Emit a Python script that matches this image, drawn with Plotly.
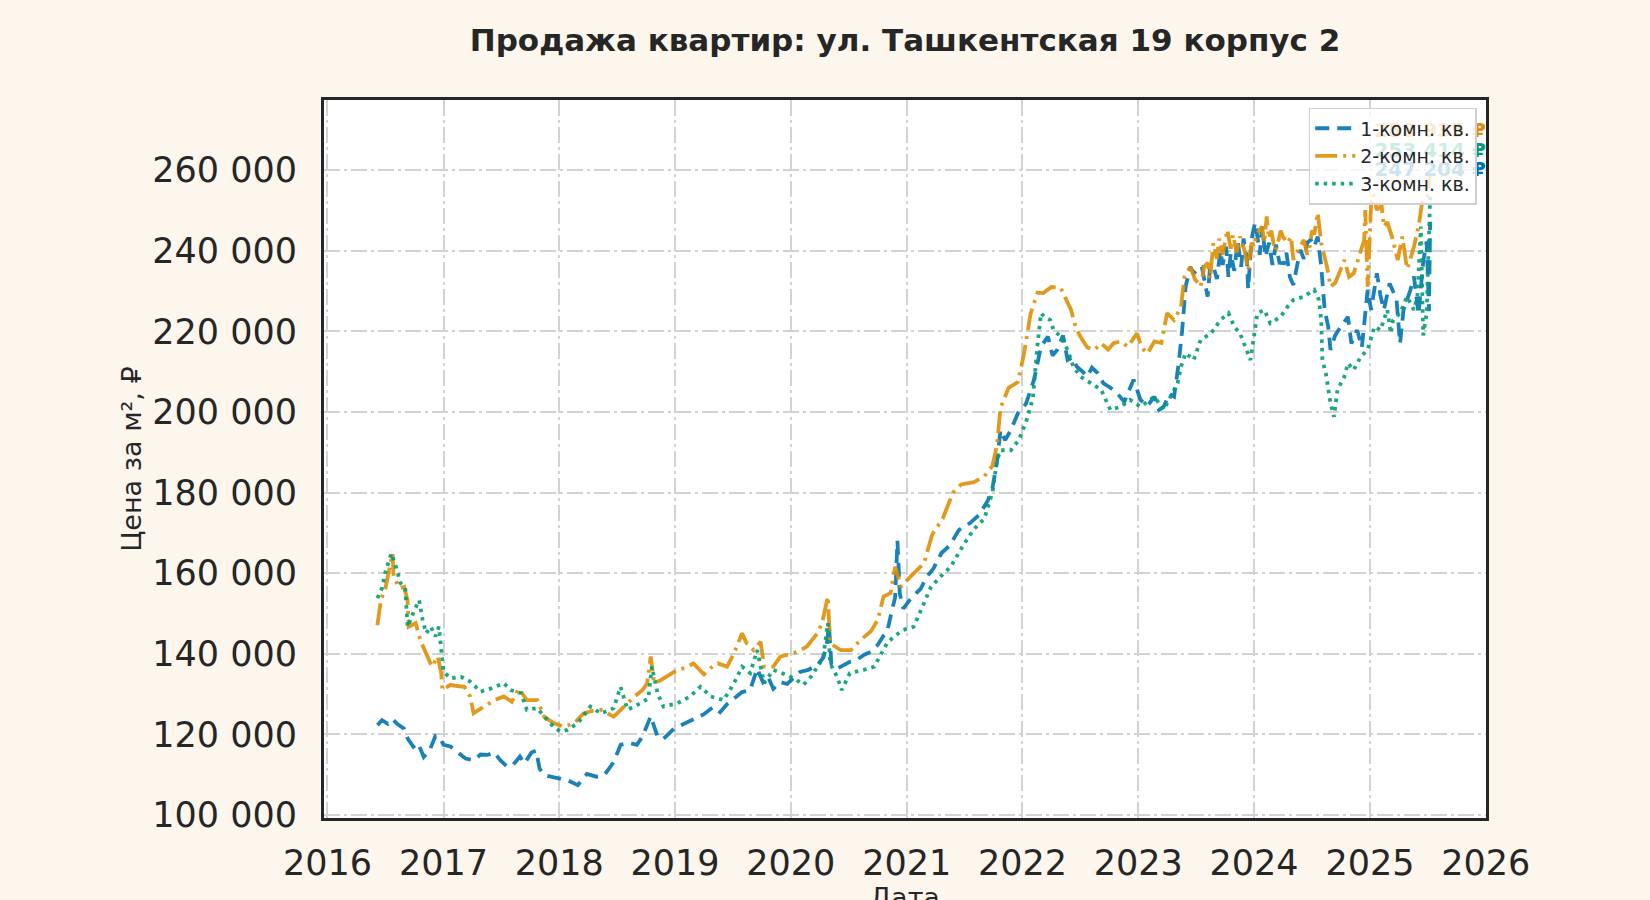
import pandas as pd
import plotly.graph_objects as go

TITLE = "Продажа квартир: ул. Ташкентская 19 корпус 2"
X_TITLE = "Дата"
Y_TITLE = "Цена за м², ₽"
SERIES_NAMES = ["1-комн. кв.", "2-комн. кв.", "3-комн. кв."]
END_LABELS = ["247 204 ₽", "258 935 ₽", "253 414 ₽"]
Y_TICKS = [100000, 120000, 140000, 160000, 180000, 200000, 220000, 240000, 260000]
X_TICK_YEARS = list(range(2016, 2027))

# 1-комн. кв. : decimal year / price per m2, thousand rubles
ONE_T = [2016.43, 2016.47, 2016.52, 2016.56, 2016.60, 2016.66, 2016.69, 2016.74, 2016.78, 2016.83,
         2016.88, 2016.93, 2016.96, 2017.00, 2017.06, 2017.12, 2017.19, 2017.26, 2017.32, 2017.38,
         2017.44, 2017.49, 2017.55, 2017.60, 2017.66, 2017.70, 2017.76, 2017.80, 2017.83, 2017.87,
         2017.93, 2018.01, 2018.08, 2018.16, 2018.24, 2018.32, 2018.39, 2018.47, 2018.53, 2018.60,
         2018.67, 2018.72, 2018.79, 2018.85, 2018.90, 2018.99, 2019.07, 2019.16, 2019.25, 2019.33,
         2019.39, 2019.45, 2019.51, 2019.58, 2019.65, 2019.71, 2019.76, 2019.80, 2019.85, 2019.91,
         2019.97, 2020.03, 2020.08, 2020.15, 2020.23, 2020.28, 2020.31, 2020.33, 2020.35, 2020.40,
         2020.45, 2020.51, 2020.57, 2020.63, 2020.69, 2020.75, 2020.80, 2020.83, 2020.87, 2020.90,
         2020.92, 2020.94, 2020.97, 2021.03, 2021.08, 2021.12, 2021.17, 2021.23, 2021.30, 2021.37,
         2021.45, 2021.55, 2021.63, 2021.70, 2021.74, 2021.78, 2021.81, 2021.85, 2021.90, 2021.96,
         2022.03, 2022.10, 2022.16, 2022.22, 2022.26, 2022.30, 2022.35, 2022.39, 2022.43, 2022.47,
         2022.52, 2022.56, 2022.60, 2022.65, 2022.70, 2022.76, 2022.82, 2022.88, 2022.96, 2023.02,
         2023.08, 2023.14, 2023.18, 2023.22, 2023.27, 2023.31, 2023.35, 2023.38, 2023.41, 2023.45,
         2023.48, 2023.53, 2023.55, 2023.57, 2023.60, 2023.62, 2023.65, 2023.68, 2023.71, 2023.73,
         2023.76, 2023.78, 2023.80, 2023.83, 2023.86, 2023.89, 2023.91, 2023.94, 2023.95, 2023.98,
         2024.01, 2024.03, 2024.05, 2024.07, 2024.10, 2024.13, 2024.16, 2024.19, 2024.22, 2024.26,
         2024.28, 2024.31, 2024.34, 2024.37, 2024.40, 2024.43, 2024.46, 2024.49, 2024.52, 2024.55,
         2024.58, 2024.61, 2024.64, 2024.66, 2024.70, 2024.75, 2024.81, 2024.84, 2024.89, 2024.93,
         2024.98, 2025.01, 2025.06, 2025.09, 2025.12, 2025.17, 2025.23, 2025.26, 2025.29, 2025.35,
         2025.38, 2025.42, 2025.46, 2025.49, 2025.51, 2025.52]
ONE_V = [122.3, 123.5, 122.6, 123.8, 122.6, 121.4, 119.0, 116.9, 117.8, 114.4,
         116.0, 119.6, 119.5, 117.4, 117.0, 115.6, 114.0, 113.6, 115.0, 114.9,
         115.5, 113.6, 112.0, 112.4, 114.5, 112.8, 115.5, 116.0, 111.5, 109.9,
         109.5, 109.0, 108.5, 107.4, 110.2, 109.5, 109.9, 113.1, 117.4, 117.9,
         117.4, 119.5, 124.5, 119.4, 118.9, 121.4, 122.5, 123.9, 125.0, 126.8,
         125.5, 127.5, 128.9, 130.5, 131.0, 136.3, 133.0, 134.5, 131.3, 133.0,
         132.5, 134.0, 135.5, 136.0, 137.2, 139.0, 142.2, 147.0, 137.5, 136.3,
         137.0, 138.0, 138.5, 139.7, 140.5, 142.2, 144.5, 145.4, 150.4, 154.0,
         168.0, 155.0, 151.2, 153.5, 155.0, 156.1, 159.0, 161.1, 165.0, 166.8,
         170.7, 172.5, 174.6, 178.0, 181.0, 187.7, 195.5, 193.0, 195.5, 199.7,
         202.0, 208.0, 216.2, 218.7, 214.0, 215.4, 219.0, 212.9, 213.5, 211.2,
         210.0, 208.8, 211.0, 209.6, 207.1, 206.0, 204.6, 202.5, 208.0, 203.0,
         201.5, 203.8, 200.5, 201.3, 204.5, 203.8, 212.1, 220.3, 231.1, 236.0,
         234.4, 236.0, 236.0, 232.8, 228.6, 235.5, 236.1, 233.0, 240.0, 236.5,
         241.0, 233.5, 239.4, 235.0, 242.5, 236.0, 243.0, 238.0, 230.5, 243.0,
         247.0, 243.5, 239.0, 246.0, 238.5, 242.0, 236.5, 241.5, 237.0, 236.9,
         239.5, 233.5, 231.5, 236.0, 240.2, 238.0, 242.0, 242.7, 241.0, 243.5,
         236.1, 225.3, 221.2, 215.4, 219.0, 221.2, 223.6, 217.0, 220.3, 216.0,
         230.3, 225.3, 234.4, 229.0, 225.3, 231.9, 227.8, 217.0, 225.3, 230.3,
         233.6, 224.2, 237.3, 242.3, 225.0, 247.204]

# 2-комн. кв.
TWO_T = [2016.43, 2016.46, 2016.50, 2016.54, 2016.56, 2016.57, 2016.62, 2016.66, 2016.69, 2016.70,
         2016.76, 2016.80, 2016.85, 2016.90, 2016.95, 2016.98, 2016.99, 2017.06, 2017.12, 2017.18,
         2017.23, 2017.26, 2017.30, 2017.35, 2017.44, 2017.52, 2017.59, 2017.65, 2017.72, 2017.81,
         2017.87, 2017.95, 2018.04, 2018.13, 2018.21, 2018.28, 2018.36, 2018.47, 2018.56, 2018.65,
         2018.72, 2018.76, 2018.79, 2018.82, 2018.88, 2018.93, 2019.02, 2019.09, 2019.16, 2019.25,
         2019.31, 2019.37, 2019.45, 2019.51, 2019.58, 2019.62, 2019.68, 2019.74, 2019.77, 2019.85,
         2019.91, 2019.98, 2020.06, 2020.14, 2020.23, 2020.27, 2020.32, 2020.34, 2020.43, 2020.52,
         2020.60, 2020.69, 2020.75, 2020.80, 2020.86, 2020.90, 2020.95, 2021.03, 2021.10, 2021.15,
         2021.22, 2021.31, 2021.40, 2021.47, 2021.58, 2021.67, 2021.74, 2021.78, 2021.81, 2021.88,
         2021.96, 2022.01, 2022.07, 2022.13, 2022.18, 2022.25, 2022.33, 2022.38, 2022.42, 2022.46,
         2022.50, 2022.56, 2022.62, 2022.68, 2022.74, 2022.79, 2022.85, 2022.91, 2022.99, 2023.03,
         2023.08, 2023.14, 2023.20, 2023.25, 2023.31, 2023.37, 2023.40, 2023.45, 2023.49, 2023.54,
         2023.57, 2023.60, 2023.62, 2023.65, 2023.68, 2023.70, 2023.73, 2023.77, 2023.80, 2023.82,
         2023.85, 2023.88, 2023.92, 2023.95, 2023.98, 2024.00, 2024.03, 2024.07, 2024.09, 2024.11,
         2024.13, 2024.15, 2024.18, 2024.20, 2024.23, 2024.25, 2024.29, 2024.32, 2024.34, 2024.36,
         2024.38, 2024.43, 2024.46, 2024.48, 2024.50, 2024.52, 2024.55, 2024.58, 2024.63, 2024.66,
         2024.70, 2024.75, 2024.78, 2024.82, 2024.86, 2024.90, 2024.95, 2024.96, 2024.98, 2025.01,
         2025.03, 2025.06, 2025.10, 2025.12, 2025.15, 2025.19, 2025.24, 2025.28, 2025.32, 2025.34,
         2025.38, 2025.42, 2025.45, 2025.49, 2025.52]
TWO_V = [147.1, 153.3, 156.3, 161.6, 164.9, 159.1, 156.3, 156.6, 153.3, 146.7,
         147.6, 143.4, 140.1, 136.8, 139.3, 135.2, 131.0, 132.3, 132.0, 131.8,
         129.4, 125.2, 126.0, 126.9, 128.5, 129.4, 128.1, 131.4, 128.5, 128.5,
         124.4, 122.8, 121.9, 122.8, 125.2, 125.8, 126.1, 124.4, 126.9, 129.4,
         131.0, 132.7, 139.3, 132.7, 133.5, 134.3, 136.0, 136.5, 137.6, 134.9,
         136.5, 137.6, 136.8, 140.1, 145.1, 142.6, 140.9, 143.0, 136.8, 136.8,
         139.3, 139.8, 140.5, 141.8, 145.1, 147.6, 154.2, 142.6, 140.9, 140.9,
         143.4, 145.5, 148.4, 154.2, 155.0, 161.6, 156.6, 159.1, 161.0, 162.5,
         169.6, 173.5, 180.0, 182.0, 182.6, 184.0, 186.6, 191.8, 200.9, 206.0,
         207.4, 213.9, 224.4, 229.6, 229.5, 231.0, 230.8, 228.0, 225.3, 221.0,
         218.7, 216.0, 215.4, 217.0, 215.5, 217.1, 217.5, 216.2, 219.5, 216.0,
         214.5, 217.5, 217.1, 224.5, 222.8, 226.1, 233.5, 236.0, 233.0, 231.1,
         236.0, 237.0, 233.0, 241.9, 238.0, 243.0, 239.0, 245.2, 240.5, 244.0,
         239.5, 243.5, 240.0, 235.2, 242.0, 241.0, 244.4, 246.0, 242.0, 248.5,
         243.0, 245.0, 240.0, 241.0, 245.0, 243.5, 241.9, 243.5, 237.7, 239.5,
         240.0, 242.7, 239.0, 241.0, 245.0, 244.0, 249.4, 241.9, 236.0, 231.1,
         232.0, 235.5, 237.7, 233.5, 234.4, 238.0, 242.7, 250.1, 231.1, 251.8,
         254.0, 250.1, 251.3, 246.0, 247.1, 243.5, 237.7, 243.5, 235.5, 236.9,
         241.0, 246.0, 251.8, 252.6, 258.935]

# 3-комн. кв.
THREE_T = [2016.43, 2016.47, 2016.50, 2016.53, 2016.55, 2016.59, 2016.63, 2016.67, 2016.69, 2016.75,
           2016.79, 2016.82, 2016.85, 2016.89, 2016.93, 2016.96, 2016.98, 2017.00, 2017.06, 2017.15,
           2017.23, 2017.32, 2017.41, 2017.52, 2017.58, 2017.67, 2017.72, 2017.81, 2017.87, 2017.95,
           2018.01, 2018.07, 2018.16, 2018.27, 2018.36, 2018.47, 2018.53, 2018.59, 2018.70, 2018.77,
           2018.80, 2018.85, 2018.90, 2019.02, 2019.13, 2019.22, 2019.31, 2019.42, 2019.51, 2019.58,
           2019.65, 2019.71, 2019.77, 2019.85, 2019.97, 2020.05, 2020.11, 2020.18, 2020.23, 2020.28,
           2020.32, 2020.34, 2020.40, 2020.44, 2020.51, 2020.57, 2020.63, 2020.72, 2020.77, 2020.83,
           2020.89, 2020.97, 2021.06, 2021.12, 2021.21, 2021.29, 2021.38, 2021.49, 2021.58, 2021.67,
           2021.74, 2021.78, 2021.81, 2021.90, 2021.97, 2022.04, 2022.09, 2022.13, 2022.16, 2022.19,
           2022.24, 2022.27, 2022.33, 2022.39, 2022.44, 2022.50, 2022.59, 2022.68, 2022.76, 2022.85,
           2022.93, 2023.02, 2023.14, 2023.22, 2023.28, 2023.34, 2023.37, 2023.41, 2023.48, 2023.54,
           2023.63, 2023.71, 2023.78, 2023.83, 2023.88, 2023.94, 2023.97, 2024.03, 2024.09, 2024.14,
           2024.23, 2024.29, 2024.34, 2024.43, 2024.52, 2024.56, 2024.58, 2024.59, 2024.62, 2024.66,
           2024.69, 2024.72, 2024.78, 2024.81, 2024.86, 2024.92, 2024.98, 2025.04, 2025.09, 2025.15,
           2025.18, 2025.20, 2025.26, 2025.32, 2025.38, 2025.41, 2025.44, 2025.46, 2025.49, 2025.52]
THREE_V = [153.8, 156.3, 160.4, 162.9, 164.9, 161.6, 157.5, 156.3, 146.7, 150.9,
           153.3, 148.4, 145.1, 146.7, 144.3, 146.7, 140.9, 135.6, 133.9, 134.3,
           133.1, 130.6, 131.4, 132.7, 131.0, 130.2, 126.1, 126.5, 124.4, 121.9,
           120.7, 121.1, 122.8, 126.9, 125.2, 126.5, 131.8, 126.1, 127.7, 128.9,
           136.8, 130.2, 126.9, 127.7, 129.4, 131.8, 129.4, 128.5, 132.7, 136.8,
           135.2, 140.9, 132.7, 136.0, 134.7, 133.5, 132.3, 134.5, 136.8, 139.0,
           147.6, 137.6, 134.3, 131.0, 135.2, 135.5, 136.0, 136.8, 139.3, 142.6,
           144.3, 145.9, 146.7, 150.9, 156.6, 159.1, 161.6, 167.0, 170.9, 173.5,
           180.0, 187.9, 190.5, 190.5, 193.1, 198.3, 203.5, 216.6, 224.5, 223.6,
           222.8, 220.3, 218.7, 215.4, 211.2, 208.8, 207.1, 205.5, 200.5, 201.3,
           203.0, 201.3, 203.8, 200.5, 203.8, 207.1, 211.2, 214.6, 212.9, 217.9,
           219.5, 222.8, 224.5, 221.2, 219.5, 215.4, 212.9, 224.5, 225.3, 222.0,
           223.6, 226.1, 227.8, 228.6, 230.3, 227.8, 222.8, 212.9, 209.6, 202.2,
           198.8, 205.5, 208.8, 212.1, 210.4, 213.7, 215.4, 221.2, 220.3, 225.3,
           219.5, 222.8, 224.5, 228.6, 225.3, 228.6, 246.0, 219.0, 224.5, 253.414]

# ---------------- styling / layout (not data) ----------------
COLORS = ["rgba(1,115,178,0.9)", "rgba(222,143,5,0.9)", "rgba(2,158,115,0.9)"]
SOLID = ["#0173b2", "#de8f05", "#029e73"]
DASHES = ["14px,8px", "22px,6px,3px,6px", "3.5px,5px"]
LABEL_Y = [259900, 269500, 264600]   # label placement (px-derived), not data
FONT = "DejaVu Sans"
INK = "#262626"
PAPER = "#fdf6ed"


def to_date(t):
    y = int(t)
    start = pd.Timestamp(y, 1, 1)
    end = pd.Timestamp(y + 1, 1, 1)
    return start + (end - start) * (t - y)


series = [(ONE_T, ONE_V), (TWO_T, TWO_V), (THREE_T, THREE_V)]

fig = go.Figure()
for i, (ts, vs) in enumerate(series):
    fig.add_trace(go.Scatter(
        x=[to_date(t) for t in ts], y=[v * 1000 for v in vs],
        mode="lines", name=SERIES_NAMES[i],
        line=dict(color=COLORS[i], width=3.8, dash=DASHES[i]),
    ))

for i, (ts, vs) in enumerate(series):
    fig.add_trace(go.Scatter(
        x=[to_date(ts[-1])], y=[LABEL_Y[i]], mode="text",
        text=[END_LABELS[i]], textposition="middle center",
        textfont=dict(family=FONT, size=20, color=SOLID[i], weight="bold"),
        cliponaxis=False, showlegend=False, hoverinfo="skip",
    ))

grid = dict(showgrid=True, gridcolor="#d2d2d2", gridwidth=2, griddash="16px,4px,3px,4px",
            showline=True, mirror=True, linecolor=INK, linewidth=3, ticks="",
            zeroline=False, automargin=False,
            tickfont=dict(family=FONT, size=35, color=INK))

fig.update_xaxes(
    **grid, type="date",
    range=[pd.Timestamp("2015-12-21"), pd.Timestamp("2026-01-02")],
    tickvals=[pd.Timestamp(y, 1, 1) for y in X_TICK_YEARS],
    ticktext=[str(y) for y in X_TICK_YEARS],
    ticklabelstandoff=12,
)
fig.update_yaxes(
    **grid, range=[99250, 277400], tickvals=Y_TICKS,
    ticktext=[f"{v:,}".replace(",", " ") for v in Y_TICKS],
    ticklabelstandoff=17,
    title=dict(text=Y_TITLE, font=dict(family=FONT, size=27, color=INK), standoff=3),
)

# x-axis title sits low, partly below the page edge as in the reference
fig.add_annotation(text=X_TITLE, xref="paper", yref="paper", x=0.5, y=-0.086,
                   xanchor="center", yanchor="top", showarrow=False,
                   font=dict(family=FONT, size=27, color=INK))

fig.update_layout(
    width=1650, height=900,
    margin=dict(l=324, r=164, t=100, b=82),
    paper_bgcolor=PAPER, plot_bgcolor="white",
    font=dict(family=FONT, color=INK),
    title=dict(text=TITLE, x=0.5, xref="paper", xanchor="center",
               y=1 - 40 / 900, yref="container", yanchor="middle",
               font=dict(family=FONT, size=31, color=INK, weight="bold")),
    legend=dict(x=0.992, y=0.989, xanchor="right", yanchor="top",
                bgcolor="rgba(255,255,255,0.8)", bordercolor="#d0d0d0", borderwidth=1.5,
                font=dict(family=FONT, size=19, color=INK), itemwidth=40),
    showlegend=True,
)

fig.write_html("out.html", config={"displayModeBar": False},
               post_script=f"document.body.style.margin='0';document.body.style.background='{PAPER}';")
